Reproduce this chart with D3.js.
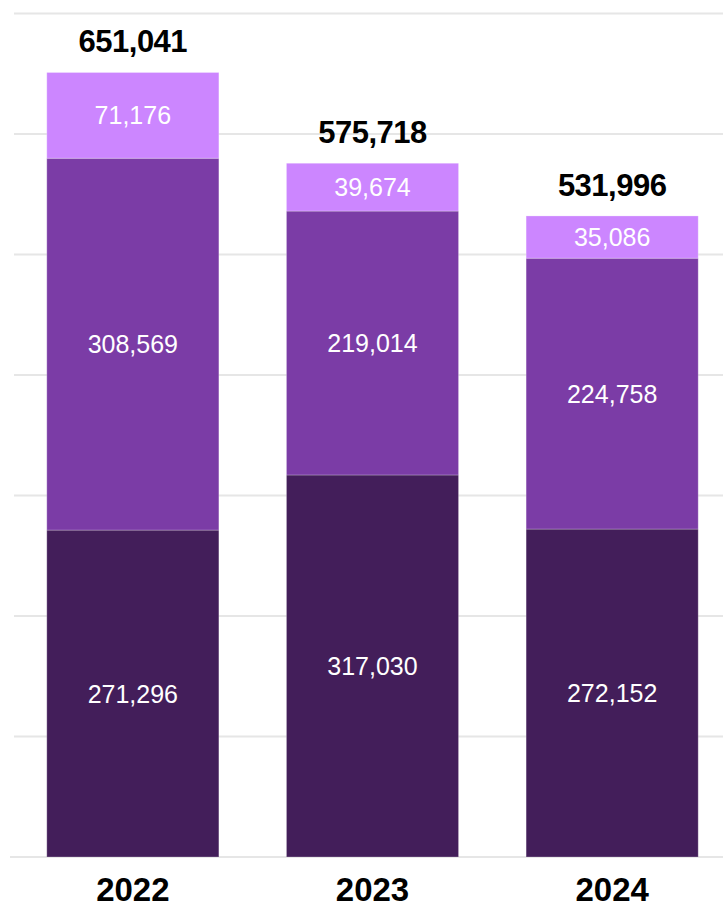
<!DOCTYPE html>
<html>
<head>
<meta charset="utf-8">
<script src="https://cdn.jsdelivr.net/npm/d3@7"></script>
<style>
  body { margin: 0; background: #fff; }
  svg { display: block; font-family: "Liberation Sans", Arial, sans-serif; }
</style>
</head>
<body>
<svg></svg>
<script>
var years = ["2022", "2023", "2024"];
var bottomValues = [271296, 317030, 272152];
var middleValues = [308569, 219014, 224758];
var topValues = [71176, 39674, 35086];
var gridTicks = [0, 100000, 200000, 300000, 400000, 500000, 600000, 700000];

var keys = ["bottom", "middle", "top"];
var colors = { bottom: "#431e5a", middle: "#7b3ca6", top: "#cc86ff" };

var rows = years.map(function(y, i) {
  return { year: y, bottom: bottomValues[i], middle: middleValues[i], top: topValues[i] };
});

var width = 723, height = 907;
var svg = d3.select("svg").attr("width", width).attr("height", height);

var x = d3.scaleBand()
    .domain(years)
    .range([13, 732])
    .paddingInner(0.282)
    .paddingOuter(0.141);

var y = d3.scaleLinear()
    .domain([0, 700000])
    .range([857, 13.5]);

var fmt = d3.format(",");

// gridlines
svg.append("g")
  .selectAll("line")
  .data(gridTicks)
  .enter().append("line")
    .attr("x1", function(d) { return d === 0 ? 10 : 14; })
    .attr("x2", width)
    .attr("y1", function(d) { return y(d); })
    .attr("y2", function(d) { return y(d); })
    .attr("stroke", "#e6e6e6")
    .attr("stroke-width", 2);

var stacked = d3.stack().keys(keys)(rows);

var layer = svg.append("g")
  .selectAll("g")
  .data(stacked)
  .enter().append("g")
    .attr("fill", function(d) { return colors[d.key]; });

layer.selectAll("rect")
  .data(function(d) { return d; })
  .enter().append("rect")
    .attr("x", function(d) { return x(d.data.year); })
    .attr("y", function(d) { return y(d[1]); })
    .attr("width", x.bandwidth())
    .attr("height", function(d) { return y(d[0]) - y(d[1]); })
    .attr("stroke", "rgba(255,255,255,0.25)")
    .attr("stroke-width", 1);

// segment labels
layer.selectAll("text")
  .data(function(d) { return d; })
  .enter().append("text")
    .attr("x", function(d) { return x(d.data.year) + x.bandwidth() / 2; })
    .attr("y", function(d) { return (y(d[0]) + y(d[1])) / 2; })
    .attr("dy", "0.36em")
    .attr("text-anchor", "middle")
    .attr("fill", "#fff")
    .style("font-size", "25px")
    .text(function(d) { return fmt(d[1] - d[0]); });

// totals
svg.append("g")
  .selectAll("text")
  .data(rows)
  .enter().append("text")
    .attr("x", function(d) { return x(d.year) + x.bandwidth() / 2; })
    .attr("y", function(d) { return y(d.bottom + d.middle + d.top) - 20; })
    .attr("text-anchor", "middle")
    .attr("fill", "#000")
    .style("font-size", "31px")
    .style("font-weight", "bold")
    .style("letter-spacing", "-0.5px")
    .text(function(d) { return fmt(d.bottom + d.middle + d.top); });

// year axis
var xAxis = svg.append("g")
    .attr("transform", "translate(0,901)")
    .call(d3.axisBottom(x).tickSize(0).tickPadding(0));
xAxis.select(".domain").remove();
xAxis.selectAll("text")
    .attr("dy", 0)
    .attr("fill", "#000")
    .style("font-size", "33px")
    .style("font-weight", "bold")
    .style("font-family", "'Liberation Sans', Arial, sans-serif");
</script>
</body>
</html>
